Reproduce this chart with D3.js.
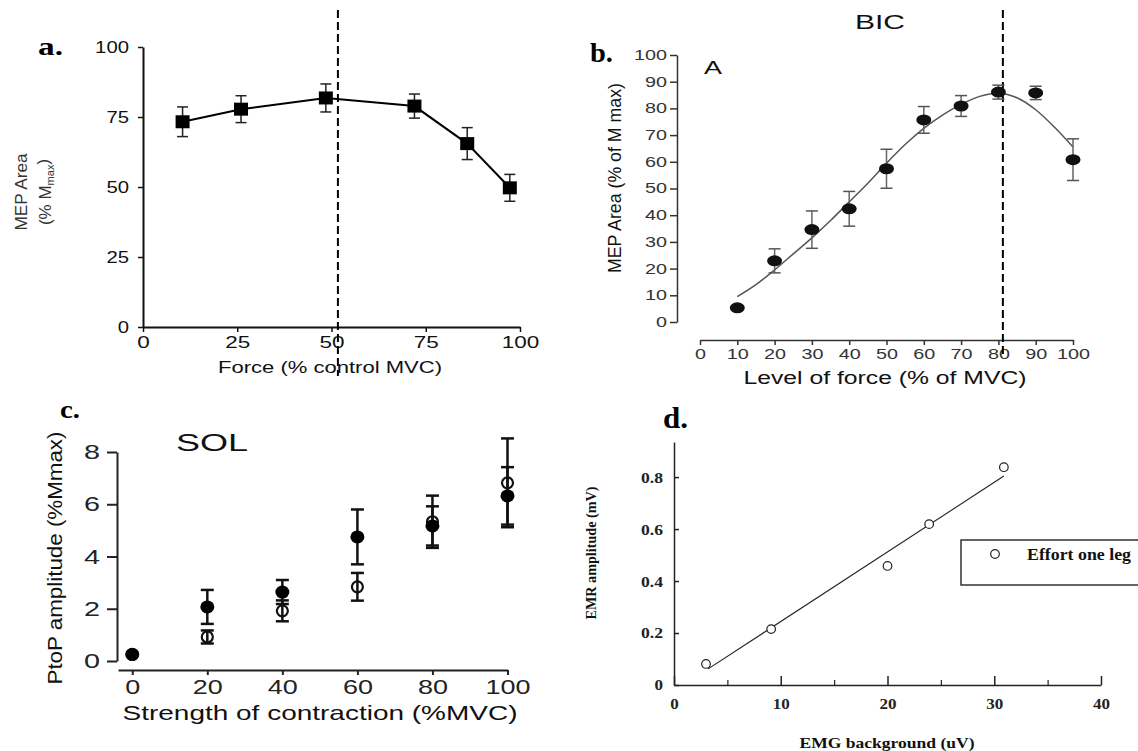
<!DOCTYPE html>
<html>
<head>
<meta charset="utf-8">
<script src="https://cdn.jsdelivr.net/npm/d3@7"></script>
<style>
body{margin:0;background:#fff;}
</style>
</head>
<body>
<script>
// ---- data panel a
var forceA = [10.5, 26, 48.5, 72, 86, 97.3];
var mepA = [73.3, 77.8, 81.8, 78.9, 65.5, 49.7];
var errA = [5.3, 4.8, 5.0, 4.3, 5.7, 4.8];
var ticksA = [0, 25, 50, 75, 100];
var cutA = 51.7;

// ---- data panel b
var forceB = [10, 20, 30, 40, 50, 60, 70, 80, 90, 100];
var mepB = [5.3, 22.9, 34.6, 42.4, 57.4, 75.7, 80.9, 86.1, 85.8, 60.8];
var errB = [0, 4.5, 7.0, 6.5, 7.3, 5.0, 3.9, 2.6, 2.5, 7.8];
var fitForceB = [10, 15, 20, 25, 30, 35, 40, 45, 50, 55, 60, 65, 70, 75, 80, 85, 90, 95, 100];
var fitMepB = [9.5, 14, 19.5, 25.5, 31.5, 38, 45, 52, 59.5, 66.5, 72.5, 77.5, 81.5, 84.5, 85.7, 84, 79.5, 73, 65.5];
var ticksB = [0, 10, 20, 30, 40, 50, 60, 70, 80, 90, 100];
var cutB = 81.2;

// ---- data panel c
var strengthC = [0, 20, 40, 60, 80, 100];
var filledC = [0.25, 2.07, 2.64, 4.75, 5.17, 6.32];
var filledErrC = [0, 0.65, 0.46, 1.05, 0.75, 1.1];
var openC = [0.25, 0.92, 1.92, 2.84, 5.33, 6.82];
var openErrC = [0, 0.25, 0.4, 0.53, 1.0, 1.7];
var ticksCy = [0, 2, 4, 6, 8];
var ticksCx = [0, 20, 40, 60, 80, 100];

// ---- data panel d
var emgD = [3.0, 9.1, 20.0, 23.9, 30.9];
var emrD = [0.081, 0.215, 0.458, 0.619, 0.838];
var fitEmgD = [3.2, 30.9];
var fitEmrD = [0.062, 0.804];
var ticksDx = [0, 10, 20, 30, 40];
var minorDx = [5, 15, 25, 35];
var ticksDy = [0, 0.2, 0.4, 0.6, 0.8];

var sans = "'Liberation Sans', Arial, sans-serif";
var serif = "'Liberation Serif', 'Times New Roman', serif";

var svg = d3.select("body").append("svg")
    .attr("width", 1138).attr("height", 751)
    .style("font-family", sans);

// stretch text to the width seen in the picture
function stretch(sel, len) {
    sel.attr("textLength", len).attr("lengthAdjust", "spacingAndGlyphs");
}
function styleAxis(g, opt) {
    g.attr("font-family", null).attr("font-size", null);
    g.select(".domain").attr("stroke", opt.color).attr("stroke-width", opt.width);
    g.selectAll(".tick line").attr("stroke", opt.color).attr("stroke-width", opt.tw || opt.width);
    g.selectAll(".tick text")
        .attr("fill", opt.color)
        .style("font-family", opt.font || sans)
        .style("font-size", opt.size + "px")
        .style("font-weight", opt.bold ? "bold" : "normal")
        .each(function (d) {
            var s = d3.select(this).text();
            var n = s.replace(".", "").length;
            var dots = s.length - n;
            d3.select(this).attr("textLength", n * opt.cw + dots * (opt.dw || 4)).attr("lengthAdjust", "spacingAndGlyphs");
        });
}
function label(x, y, txt, size, len, rot, font, bold) {
    var t = svg.append("text")
        .attr("transform", "translate(" + x + "," + y + ")" + (rot ? " rotate(-90)" : ""))
        .attr("text-anchor", "middle").attr("dy", "0.35em")
        .style("font-family", font || sans)
        .style("font-size", size + "px")
        .style("font-weight", bold ? "bold" : "normal")
        .attr("fill", "#111")
        .text(txt);
    if (len) stretch(t, len);
    return t;
}
function panelLetter(x, y, txt, size, len) {
    var t = svg.append("text").attr("x", x).attr("y", y)
        .style("font-family", serif).style("font-weight", "bold")
        .style("font-size", size + "px").attr("fill", "#000").text(txt);
    stretch(t, len);
}

//==================== panel a
var xA = d3.scaleLinear().domain([0, 100]).range([143, 520]);
var yA = d3.scaleLinear().domain([0, 100]).range([327, 47]);
var gA = svg.append("g");

gA.append("g").attr("transform", "translate(0,327)")
    .call(d3.axisBottom(xA).tickValues(ticksA).tickSize(5).tickSizeOuter(0).tickPadding(5))
    .call(styleAxis, {color: "#111", width: 2, tw: 1.5, size: 16, cw: 12.5});
gA.append("g").attr("transform", "translate(143,0)")
    .call(d3.axisLeft(yA).tickValues(ticksA).tickSize(5).tickSizeOuter(0).tickPadding(9))
    .call(styleAxis, {color: "#111", width: 2, tw: 1.5, size: 16, cw: 11.3});

// dashed reference
gA.append("line")
    .attr("x1", xA(cutA)).attr("x2", xA(cutA)).attr("y1", 10).attr("y2", 376)
    .attr("stroke", "#000").attr("stroke-width", 2).attr("stroke-dasharray", "8,4");

var lineA = d3.line().x(function (i) { return xA(forceA[i]); }).y(function (i) { return yA(mepA[i]); });
gA.append("path").attr("d", lineA(d3.range(forceA.length)))
    .attr("fill", "none").attr("stroke", "#000").attr("stroke-width", 2);

d3.range(forceA.length).forEach(function (i) {
    var x = xA(forceA[i]);
    var t = yA(mepA[i] + errA[i]), b = yA(mepA[i] - errA[i]);
    gA.append("line").attr("x1", x).attr("x2", x).attr("y1", t).attr("y2", b).attr("stroke", "#222").attr("stroke-width", 1.5);
    gA.append("line").attr("x1", x - 5.5).attr("x2", x + 5.5).attr("y1", t).attr("y2", t).attr("stroke", "#222").attr("stroke-width", 1.5);
    gA.append("line").attr("x1", x - 5.5).attr("x2", x + 5.5).attr("y1", b).attr("y2", b).attr("stroke", "#222").attr("stroke-width", 1.5);
});
gA.selectAll("rect.pt").data(d3.range(forceA.length)).enter().append("rect")
    .attr("x", function (i) { return xA(forceA[i]) - 7; })
    .attr("y", function (i) { return yA(mepA[i]) - 6.5; })
    .attr("width", 14).attr("height", 13).attr("fill", "#000");

label(330, 367, "Force (% control MVC)", 16.5, 224);
label(21, 192, "MEP Area", 17, 77, true).attr("fill", "#333");
var subA = svg.append("text")
    .attr("transform", "translate(45,192) rotate(-90)")
    .attr("text-anchor", "middle").attr("dy", "0.35em")
    .style("font-size", "17px").attr("fill", "#333");
subA.append("tspan").text("(% M");
subA.append("tspan").style("font-size", "11px").attr("dy", "0.25em").text("max");
subA.append("tspan").attr("dy", "-0.25em").text(")");
panelLetter(38, 55, "a.", 26, 25);

//==================== panel b
var xB = d3.scaleLinear().domain([0, 100]).range([700, 1073]);
var yB = d3.scaleLinear().domain([0, 100]).range([322, 55]);
var gB = svg.append("g");

gB.append("g").attr("transform", "translate(0,340)")
    .call(d3.axisBottom(xB).tickValues(ticksB).tickSize(5).tickSizeOuter(0).tickPadding(4))
    .call(styleAxis, {color: "#333", width: 1.5, size: 14, cw: 11});
gB.append("g").attr("transform", "translate(677,0)")
    .call(d3.axisLeft(yB).tickValues(ticksB).tickSize(7).tickSizeOuter(0).tickPadding(3))
    .call(styleAxis, {color: "#333", width: 1.5, size: 14, cw: 11});

gB.append("line")
    .attr("x1", xB(cutB)).attr("x2", xB(cutB)).attr("y1", 10).attr("y2", 354)
    .attr("stroke", "#000").attr("stroke-width", 2).attr("stroke-dasharray", "8,4");

var lineB = d3.line().curve(d3.curveCatmullRom)
    .x(function (i) { return xB(fitForceB[i]); }).y(function (i) { return yB(fitMepB[i]); });
gB.append("path").attr("d", lineB(d3.range(fitForceB.length)))
    .attr("fill", "none").attr("stroke", "#555").attr("stroke-width", 1.5);

d3.range(forceB.length).forEach(function (i) {
    if (!errB[i]) return;
    var x = xB(forceB[i]);
    var t = yB(mepB[i] + errB[i]), b = yB(mepB[i] - errB[i]);
    gB.append("line").attr("x1", x).attr("x2", x).attr("y1", t).attr("y2", b).attr("stroke", "#666").attr("stroke-width", 1.5);
    gB.append("line").attr("x1", x - 6).attr("x2", x + 6).attr("y1", t).attr("y2", t).attr("stroke", "#555").attr("stroke-width", 1.5);
    gB.append("line").attr("x1", x - 6).attr("x2", x + 6).attr("y1", b).attr("y2", b).attr("stroke", "#555").attr("stroke-width", 1.5);
});
gB.selectAll("ellipse").data(d3.range(forceB.length)).enter().append("ellipse")
    .attr("cx", function (i) { return xB(forceB[i]); })
    .attr("cy", function (i) { return yB(mepB[i]); })
    .attr("rx", 7.5).attr("ry", 5.5).attr("fill", "#111");

label(880, 22, "BIC", 21, 50);
label(713, 68, "A", 18, 18);
label(885, 378, "Level of force (% of MVC)", 17.5, 283);
label(615, 178, "MEP Area (% of M max)", 17.5, 190, true);
panelLetter(590, 62, "b.", 28, 23);

//==================== panel c
var xC = d3.scaleLinear().domain([-3.8, 100]).range([118, 507.5]);
var yC = d3.scaleLinear().domain([0, 8]).range([661, 452]);
var gC = svg.append("g");

gC.append("g").attr("transform", "translate(0,670)")
    .call(d3.axisBottom(xC).tickValues(ticksCx).tickSize(5).tickSizeOuter(0).tickPadding(4.5))
    .call(styleAxis, {color: "#222", width: 2, size: 21, cw: 15});
gC.append("g").attr("transform", "translate(117,0)")
    .call(d3.axisLeft(yC).tickValues(ticksCy).tickSize(10).tickSizeOuter(0).tickPadding(7))
    .call(styleAxis, {color: "#222", width: 2, size: 21, cw: 16});

function errBarC(vals, errs) {
    d3.range(strengthC.length).forEach(function (i) {
        if (!errs[i]) return;
        var x = xC(strengthC[i]);
        var t = yC(vals[i] + errs[i]), b = yC(vals[i] - errs[i]);
        gC.append("line").attr("x1", x).attr("x2", x).attr("y1", t).attr("y2", b).attr("stroke", "#111").attr("stroke-width", 2.5);
        gC.append("line").attr("x1", x - 6.5).attr("x2", x + 6.5).attr("y1", t).attr("y2", t).attr("stroke", "#111").attr("stroke-width", 2.5);
        gC.append("line").attr("x1", x - 6.5).attr("x2", x + 6.5).attr("y1", b).attr("y2", b).attr("stroke", "#111").attr("stroke-width", 2.5);
    });
}
errBarC(openC, openErrC);
errBarC(filledC, filledErrC);

gC.selectAll("ellipse.open").data(d3.range(strengthC.length)).enter().append("ellipse")
    .attr("class", "open")
    .attr("cx", function (i) { return xC(strengthC[i]); })
    .attr("cy", function (i) { return yC(openC[i]); })
    .attr("rx", 5.5).attr("ry", 5.5).attr("fill", "none").attr("stroke", "#111").attr("stroke-width", 2.2);
gC.selectAll("ellipse.fill").data(d3.range(strengthC.length)).enter().append("ellipse")
    .attr("class", "fill")
    .attr("cx", function (i) { return xC(strengthC[i]); })
    .attr("cy", function (i) { return yC(filledC[i]); })
    .attr("rx", 7).attr("ry", 6.5).attr("fill", "#000");

label(212, 443, "SOL", 23, 72);
label(320, 713, "Strength of contraction (%MVC)", 21, 395);
label(55, 558, "PtoP amplitude (%Mmax)", 21, 253, true);
panelLetter(60, 418, "c.", 26, 20);

//==================== panel d
var xD = d3.scaleLinear().domain([0, 40]).range([674, 1101]);
var yD = d3.scaleLinear().domain([0, 0.935]).range([685, 442]);
var gD = svg.append("g");

gD.append("g").attr("transform", "translate(0,685)")
    .call(d3.axisBottom(xD).tickValues(ticksDx).tickSize(-9).tickSizeOuter(0).tickPadding(13))
    .call(styleAxis, {color: "#222", width: 1.5, size: 15.5, cw: 8.5, font: serif, bold: true});
gD.append("g").attr("transform", "translate(0,685)")
    .call(d3.axisBottom(xD).tickValues(minorDx).tickSize(-5).tickFormat(""))
    .call(function (g) { g.select(".domain").remove(); g.selectAll("line").attr("stroke", "#222").attr("stroke-width", 1.2); });
gD.append("g").attr("transform", "translate(674,0)")
    .call(d3.axisLeft(yD).tickValues(ticksDy).tickSize(-5).tickSizeOuter(0).tickPadding(11)
        .tickFormat(function (d) { return d === 0 ? "0" : d3.format(".1f")(d); }))
    .call(styleAxis, {color: "#222", width: 1.5, size: 15.5, cw: 8.5, dw: 5, font: serif, bold: true});

gD.append("line")
    .attr("x1", xD(fitEmgD[0])).attr("y1", yD(fitEmrD[0]))
    .attr("x2", xD(fitEmgD[1])).attr("y2", yD(fitEmrD[1]))
    .attr("stroke", "#222").attr("stroke-width", 1.1);
gD.selectAll("circle").data(d3.range(emgD.length)).enter().append("circle")
    .attr("cx", function (i) { return xD(emgD[i]); })
    .attr("cy", function (i) { return yD(emrD[i]); })
    .attr("r", 4.3).attr("fill", "#fff").attr("stroke", "#222").attr("stroke-width", 1.2);

// legend
gD.append("rect").attr("x", 961).attr("y", 540).attr("width", 190).attr("height", 45)
    .attr("fill", "none").attr("stroke", "#333").attr("stroke-width", 1.5);
gD.append("circle").attr("cx", 995).attr("cy", 554).attr("r", 4.3)
    .attr("fill", "#fff").attr("stroke", "#222").attr("stroke-width", 1.2);
var legT = gD.append("text").attr("x", 1027).attr("y", 554).attr("dy", "0.35em")
    .style("font-family", serif).style("font-weight", "bold").style("font-size", "16px")
    .attr("fill", "#111").text("Effort one leg");
stretch(legT, 104);

label(887, 743, "EMG background (uV)", 15.5, 175, false, serif, true);
label(591, 553, "EMR amplitude (mV)", 14.5, 133, true, serif, true);
panelLetter(663, 428, "d.", 30, 25);
</script>
</body>
</html>
